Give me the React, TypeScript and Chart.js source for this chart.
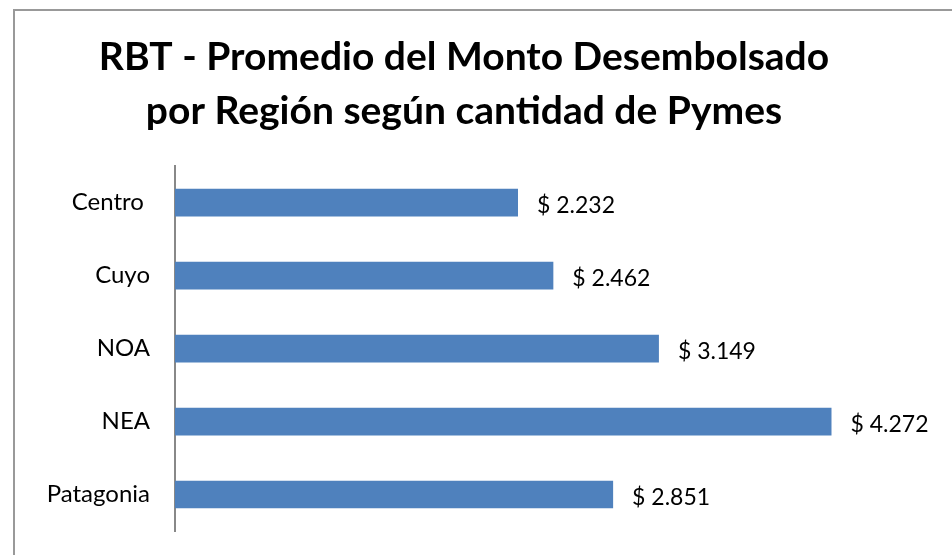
import React, { useEffect, useRef } from "react";
import { Chart, registerables } from "chart.js";

Chart.register(...registerables);

const categories = ["Centro ", "Cuyo", "NOA", "NEA", "Patagonia"];
const values = [2232, 2462, 3149, 4272, 2851];
const titleLines = ["RBT - Promedio del Monto Desembolsado", "por Región según cantidad de Pymes"];

const fmt = (v: number) => "$ " + String(v).replace(/\B(?=(\d{3})+(?!\d))/g, ".");

const labelPlugin = {
  id: "barLabels",
  afterDatasetsDraw(chart: any) {
    const ctx = chart.ctx;
    const meta = chart.getDatasetMeta(0);
    ctx.save();
    ctx.font = "23px Lato";
    ctx.fillStyle = "#000";
    ctx.textAlign = "left";
    ctx.textBaseline = "middle";
    meta.data.forEach((bar: any, i: number) => {
      ctx.fillText(fmt(values[i]), bar.x + 19, bar.y + 3);
    });
    ctx.restore();
  },
};

export default function App() {
  const ref = useRef<HTMLCanvasElement>(null);
  useEffect(() => {
    if (!ref.current) return;
    const chart = new Chart(ref.current, {
      type: "bar",
      data: {
        labels: categories,
        datasets: [
          {
            data: values,
            backgroundColor: "#4F81BD",
            categoryPercentage: 1,
            barPercentage: 0.38,
          },
        ],
      },
      options: {
        indexAxis: "y",
        responsive: false,
        animation: false,
        layout: { padding: { left: 0, right: 24, top: 0, bottom: 24 } },
        plugins: {
          legend: { display: false },
          tooltip: { enabled: false },
          title: {
            display: true,
            text: titleLines,
            color: "#000",
            font: { family: "Lato", size: 39, weight: "bold", lineHeight: 1.385 },
            padding: { top: 30, bottom: 28 },
          },
        },
        scales: {
          x: { display: false, min: 0, max: 4900 },
          y: {
            grid: { display: false, drawTicks: false },
            border: { color: "#888", width: 2 },
            ticks: { color: "#000", font: { family: "Lato", size: 24 }, padding: 25 },
            afterFit: (s: any) => {
              s.width = 175;
              s.paddingTop = 0;
              s.paddingBottom = 0;
            },
          },
        },
      },
      plugins: [labelPlugin],
    });
    return () => chart.destroy();
  }, []);
  return (
    <div style={{ position: "fixed", left: 0, top: 0, width: 952, height: 555, overflow: "hidden", background: "#fff" }}>
      <div
        style={{
          position: "absolute",
          left: 13,
          top: 9,
          width: 1000,
          height: 700,
          borderTop: "2px solid #999",
          borderLeft: "2px solid #999",
        }}
      />
      <canvas ref={ref} width={952} height={555} style={{ position: "absolute", left: 0, top: 0 }} />
    </div>
  );
}
